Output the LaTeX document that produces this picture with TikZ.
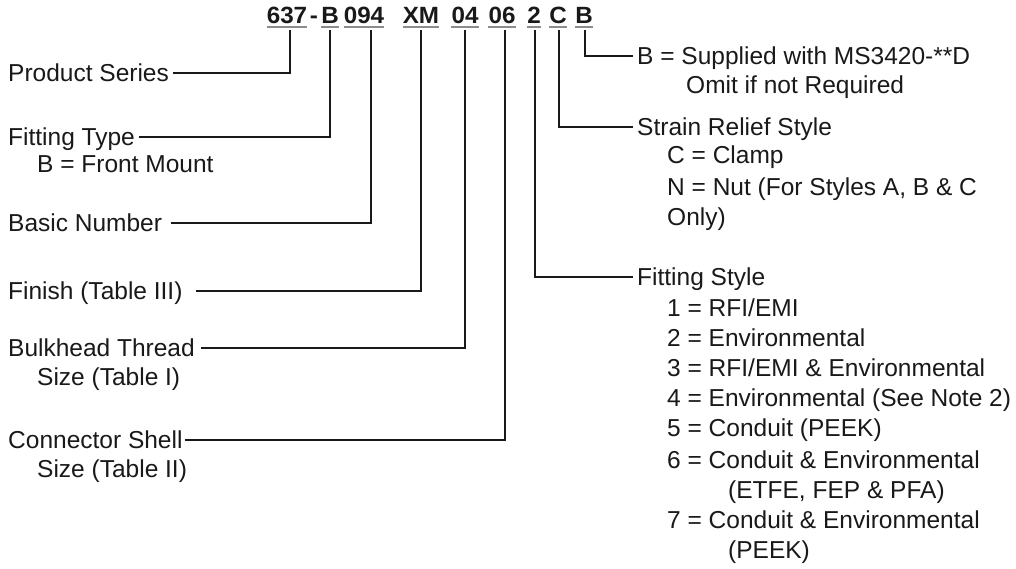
\documentclass[tikz,border=0pt]{standalone}
\usepackage{fontspec}
\setmainfont{Liberation Sans}
\newfontfamily\partfont[FakeStretch=1.03]{Liberation Sans Bold}
\usetikzlibrary{positioning}

\begin{document}
\begin{tikzpicture}[
  x=1pt, y=-1pt,
  font=\fontsize{24.5}{30}\selectfont,
  part/.style={font=\partfont\fontsize{23.5}{24}\selectfont, text=black!90,
               inner xsep=0pt, inner ysep=0pt, text depth=0pt, anchor=base},
  uline/.style={draw=black!45, line width=1.8pt},
  lbl/.style={inner sep=0pt, anchor=west, text=black!90, text height=17.5pt, text depth=0pt},
  lead/.style={draw=black!90, line width=1.8pt},
]
\useasboundingbox (0,0) rectangle (1016,568);

% part number
\node[part] (p1) at (287,23) {637};
\node[part] (hy) at (314,23) {-};
\node[part] (p2) at (330,23) {B};
\node[part] (p3) at (364,23) {094};
\node[part] (p4) at (421,23) {XM};
\node[part] (p5) at (465,23) {04};
\node[part] (p6) at (502,23) {06};
\node[part] (p7) at (534,23) {2};
\node[part] (p8) at (558,23) {C};
\node[part] (p9) at (584,23) {B};
\foreach \p in {p1,p2,p3,p4,p5,p6,p7,p8,p9}
  \draw[uline] ([yshift=-3.5pt]\p.south west) -- ([yshift=-3.5pt]\p.south east);

% left side
\node[lbl] (ps)  at (8,73)  {Product Series};
\node[lbl] (ft)  at (8,137) {Fitting Type};
\node[lbl] (ftb) at (37,164) {B = Front Mount};
\node[lbl] (bn)  at (8,223) {Basic Number};
\node[lbl] (fi)  at (8,291) {Finish (Table III)};
\node[lbl] (bt)  at (8,348) {Bulkhead Thread};
\node[lbl] (bts) at (37,377) {Size (Table I)};
\node[lbl] (cs)  at (8,440) {Connector Shell};
\node[lbl] (css) at (37,469) {Size (Table II)};

\draw[lead, shorten <=4pt,  shorten >=7pt] (ps.east) -| ([xshift=3pt]p1.south);
\draw[lead, shorten <=4pt,  shorten >=7pt] (ft.east) -| (p2.south);
\draw[lead, shorten <=9pt,  shorten >=7pt] (bn.east) -| ([xshift=7pt]p3.south);
\draw[lead, shorten <=13pt, shorten >=7pt] (fi.east) -| (p4.south);
\draw[lead, shorten <=6pt,  shorten >=7pt] (bt.east) -| (p5.south);
\draw[lead, shorten <=2pt,  shorten >=7pt] (cs.east) -| ([xshift=3pt]p6.south);

% right side
\node[lbl] (sb)  at (637,56)  {B = Supplied with MS3420-**D};
\node[lbl] (sbo) at (686,85)  {Omit if not Required};
\node[lbl] (sr)  at (637,127) {Strain Relief Style};
\node[lbl] (src) at (667,155) {C = Clamp};
\node[lbl] (srn) at (667,187) {N = Nut (For Styles A, B \& C};
\node[lbl] (sro) at (667,217) {Only)};
\node[lbl] (fs)  at (637,277) {Fitting Style};
\node[lbl] (fs1) at (667,308) {1 = RFI/EMI};
\node[lbl] (fs2) at (667,338) {2 = Environmental};
\node[lbl] (fs3) at (667,368) {3 = RFI/EMI \& Environmental};
\node[lbl] (fs4) at (667,398) {4 = Environmental (See Note 2)};
\node[lbl] (fs5) at (667,428) {5 = Conduit (PEEK)};
\node[lbl] (fs6) at (667,460) {6 = Conduit \& Environmental};
\node[lbl] (fs6b) at (728,490) {(ETFE, FEP \& PFA)};
\node[lbl] (fs7) at (667,520) {7 = Conduit \& Environmental};
\node[lbl] (fs7b) at (728,550) {(PEEK)};

\draw[lead, shorten <=7pt, shorten >=4pt] ([xshift=1pt]p9.south) |- (sb.west);
\draw[lead, shorten <=7pt, shorten >=4pt] ([xshift=1pt]p8.south) |- (sr.west);
\draw[lead, shorten <=7pt, shorten >=4pt] ([xshift=1pt]p7.south) |- (fs.west);

\end{tikzpicture}
\end{document}
